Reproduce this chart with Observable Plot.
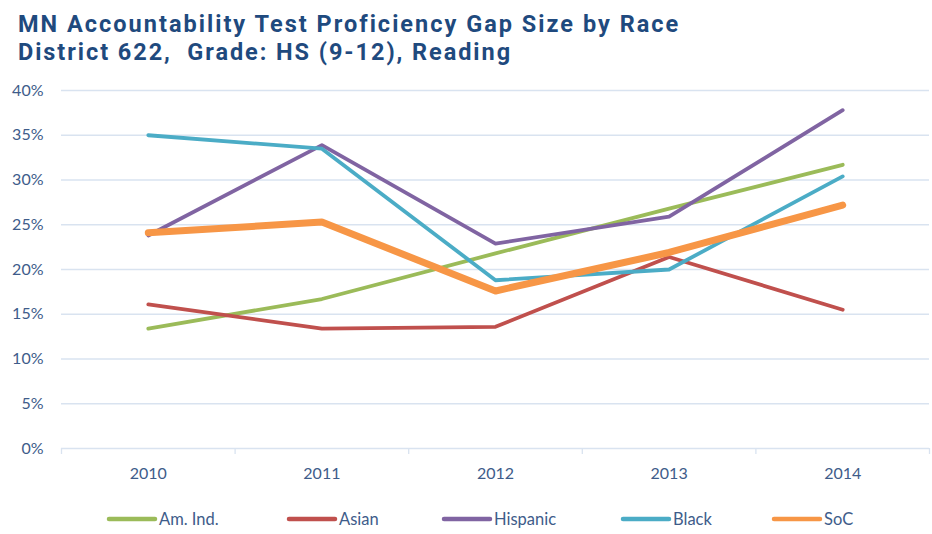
<!DOCTYPE html>
<html>
<head>
<meta charset="utf-8">
<script src="https://cdn.jsdelivr.net/npm/d3@7"></script>
<script src="https://cdn.jsdelivr.net/npm/@observablehq/plot@0.6"></script>
<style>
  html, body { margin: 0; padding: 0; background: #fff; }
  body { width: 932px; height: 534px; position: relative; overflow: hidden; font-family: Lato, "Open Sans", sans-serif; }
  #title { position: absolute; left: 18px; top: 10px; color: #1F4A7E; font-family: Roboto, "Open Sans", sans-serif; font-weight: bold; font-size: 23.5px; line-height: 28px; white-space: pre; }
  #title span { display: inline-block; }
  #chart { position: absolute; left: 0; top: 80px; }
  #legend { position: absolute; top: 508px; left: 0; width: 932px; height: 22px; }
  .item { position: absolute; top: 0; height: 22px; display: flex; align-items: center; gap: 1px; color: #3E5C8A; font-size: 16.5px; }
</style>
</head>
<body>
<div id="title"><span id="t1">MN Accountability Test Proficiency Gap Size by Race</span><br><span id="t2">District 622,  Grade: HS (9-12), Reading</span></div>
<div id="chart"></div>
<div id="legend"></div>
<script>
// ---- data ----
const years = [2010, 2011, 2012, 2013, 2014];
const seriesNames = ["Am. Ind.", "Asian", "Hispanic", "Black", "SoC"];
const amInd    = [13.4, 16.7, 21.8, 26.8, 31.7];
const asian    = [16.1, 13.4, 13.6, 21.4, 15.5];
const hispanic = [23.8, 33.9, 22.9, 25.9, 37.8];
const black    = [35.0, 33.5, 18.8, 20.0, 30.4];
const soc      = [24.1, 25.3, 17.6, 21.9, 27.2];
const yTicks   = [0, 5, 10, 15, 20, 25, 30, 35, 40];
const seriesColors = ["#9BBB59", "#C0504D", "#8064A2", "#4BACC6", "#F79646"];
const seriesWidths = [3.8, 3.8, 3.8, 3.8, 7];

const seriesValues = [amInd, asian, hispanic, black, soc];
const rows = seriesNames.flatMap((name, i) => years.map((yr, j) => ({series: name, year: yr, value: seriesValues[i][j]})));
// band boundaries between categories
const boundaries = [years[0] - 0.5, ...years.map(y => y + 0.5)];

const grid = "#D9E3F0";
const labelColor = "#3E5C8A";

const lineMarks = seriesNames.map((name, i) =>
  Plot.line(rows.filter(r => r.series === name), {
    x: "year", y: "value",
    stroke: seriesColors[i], strokeWidth: seriesWidths[i],
    strokeLinecap: "round", strokeLinejoin: "round"
  })
);

const chart = Plot.plot({
  width: 932,
  height: 420,
  marginTop: 10,
  marginBottom: 52,
  marginLeft: 61,
  marginRight: 3,
  style: {fontFamily: "Lato, 'Open Sans', sans-serif", fontSize: "16px", background: "#fff"},
  x: {type: "linear", domain: [years[0] - 0.5, years[years.length - 1] + 0.5]},
  y: {domain: [0, 40]},
  marks: [
    Plot.gridY(yTicks, {stroke: grid, strokeOpacity: 1, strokeWidth: 1.3}),
    Plot.axisY(yTicks, {tickSize: 0, tickPadding: 18, tickFormat: d => `${d}%`, fill: labelColor, label: null}),
    Plot.axisX(boundaries, {tickSize: 6, stroke: grid, strokeWidth: 1.3, tickFormat: () => "", label: null}),
    Plot.axisX(years, {tickSize: 0, tickPadding: 19, tickFormat: d3.format("d"), fill: labelColor, label: null}),
    ...lineMarks
  ]
});
document.getElementById("chart").append(chart);

// legend (layout: left edge of each entry)
const legendLefts = [106, 286, 441, 620, 771];
const legend = d3.select("#legend");
seriesNames.forEach((name, i) => {
  const item = legend.append("div").attr("class", "item").style("left", legendLefts[i] + "px");
  const svg = item.append("svg").attr("width", 52).attr("height", 10);
  svg.append("line").attr("x1", 3).attr("x2", 49).attr("y1", 5).attr("y2", 5)
    .attr("stroke", seriesColors[i]).attr("stroke-width", 4.5).attr("stroke-linecap", "round");
  item.append("span").text(name);
});

// fit title lines to the reference widths
function fit(id, target) {
  const el = document.getElementById(id);
  el.style.letterSpacing = "0px";
  const n = el.textContent.length;
  const w = el.getBoundingClientRect().width;
  el.style.letterSpacing = ((target - w) / n) + "px";
}
const doFit = () => { fit("t1", 662); fit("t2", 494); };
doFit();
if (document.fonts && document.fonts.ready) document.fonts.ready.then(doFit);
</script>
</body>
</html>
